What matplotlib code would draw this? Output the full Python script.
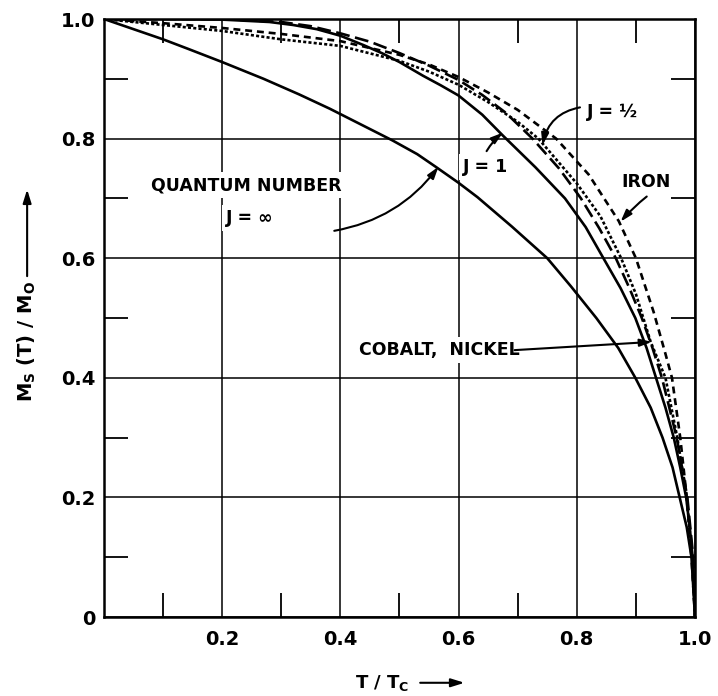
import matplotlib.pyplot as plt
from matplotlib.ticker import FixedLocator

plt.rcParams['font.family'] = ['DejaVu Sans']
plt.rcParams['font.weight'] = 'bold'
plt.rcParams['mathtext.fontset'] = 'custom'
plt.rcParams['mathtext.bf'] = 'DejaVu Sans:bold'
plt.rcParams['lines.scale_dashes'] = False

# values: T/Tc and Ms(T)/M0
t_jinf = [0.0, 0.05, 0.1, 0.1425, 0.2, 0.27, 0.33, 0.382, 0.43, 0.488, 0.53, 0.5625, 0.6,
          0.632, 0.69, 0.75, 0.79, 0.833, 0.87, 0.899, 0.925, 0.945, 0.962, 0.974, 0.986,
          0.994, 1.0]
m_jinf = [1.0, 0.983, 0.966, 0.95, 0.928, 0.9, 0.874, 0.85, 0.826, 0.797, 0.774, 0.752,
          0.726, 0.702, 0.653, 0.6, 0.553, 0.5, 0.45, 0.4, 0.35, 0.3, 0.25, 0.2, 0.15,
          0.1, 0.0]

t_j1 = [0.0, 0.1, 0.2, 0.28, 0.32, 0.36, 0.4, 0.44, 0.47, 0.5, 0.54, 0.57, 0.6, 0.64, 0.675,
        0.73, 0.78, 0.815, 0.845, 0.874, 0.899, 0.918, 0.934, 0.95, 0.964, 0.975, 0.985,
        0.991, 0.996, 1.0]
m_j1 = [1.0, 1.0, 0.999, 0.995, 0.99, 0.983, 0.972, 0.956, 0.943, 0.928, 0.905, 0.889, 0.872,
        0.84, 0.805, 0.752, 0.7, 0.652, 0.6, 0.55, 0.5, 0.45, 0.4, 0.35, 0.3, 0.25, 0.2,
        0.15, 0.1, 0.0]

t_jhalf = [0.0, 0.2, 0.3, 0.35, 0.4, 0.45, 0.5, 0.55, 0.6, 0.64, 0.68, 0.725, 0.77, 0.807,
           0.838, 0.866, 0.889, 0.91, 0.928, 0.944, 0.969, 0.987, 0.997, 1.0]
m_jhalf = [1.0, 1.0, 0.995, 0.988, 0.976, 0.962, 0.943, 0.922, 0.898, 0.873, 0.843, 0.8,
           0.75, 0.7, 0.65, 0.6, 0.55, 0.5, 0.45, 0.4, 0.3, 0.2, 0.1, 0.0]

t_iron = [0.0, 0.1, 0.2, 0.3, 0.4, 0.5, 0.55, 0.6, 0.65, 0.7, 0.765, 0.82, 0.871, 0.9,
          0.93, 0.95, 0.961, 0.975, 0.986, 0.994, 1.0]
m_iron = [1.0, 0.993, 0.985, 0.975, 0.963, 0.94, 0.924, 0.903, 0.877, 0.848, 0.8, 0.74,
          0.662, 0.6, 0.51, 0.44, 0.4, 0.3, 0.2, 0.1, 0.0]

t_coni = [0.0, 0.1, 0.2, 0.3, 0.4, 0.5, 0.55, 0.6, 0.65, 0.7, 0.735, 0.8, 0.84, 0.875,
          0.9, 0.925, 0.95, 0.97, 0.986, 0.995, 1.0]
m_coni = [1.0, 0.99, 0.98, 0.966, 0.955, 0.93, 0.912, 0.89, 0.861, 0.828, 0.8, 0.725,
          0.67, 0.6, 0.54, 0.46, 0.4, 0.3, 0.2, 0.1, 0.0]

x_ticks = [0.2, 0.4, 0.6, 0.8, 1.0]
x_labels = ['0.2', '0.4', '0.6', '0.8', '1.0']
y_ticks = [0.0, 0.2, 0.4, 0.6, 0.8, 1.0]
y_labels = ['0', '0.2', '0.4', '0.6', '0.8', '1.0']
minor_ticks = [0.1, 0.3, 0.5, 0.7, 0.9]

fig = plt.figure(figsize=(7.18, 6.96), dpi=100)
ax = fig.add_axes([0.1448, 0.1135, 0.8232, 0.8592])

lw = 1.9
ax.plot(t_jinf, m_jinf, color='black', lw=lw, zorder=4)
ax.plot(t_j1, m_j1, color='black', lw=lw, zorder=4)
ax.plot(t_jhalf, m_jhalf, color='black', lw=lw, dashes=(10, 4), zorder=4)
ax.plot(t_coni, m_coni, color='black', lw=lw, dashes=(2.2, 1.6), zorder=4)
ax.plot(t_iron, m_iron, color='black', lw=lw, dashes=(5, 3.5), zorder=4)

ax.set_xlim(0, 1)
ax.set_ylim(0, 1)
ax.set_xticks(x_ticks)
ax.set_xticklabels(x_labels)
ax.set_yticks(y_ticks)
ax.set_yticklabels(y_labels)
ax.xaxis.set_minor_locator(FixedLocator(minor_ticks))
ax.yaxis.set_minor_locator(FixedLocator(minor_ticks))
ax.tick_params(which='major', length=0, labelsize=14)
ax.tick_params(axis='y', which='major', pad=6)
ax.tick_params(axis='x', which='major', pad=9)
ax.tick_params(which='minor', direction='in', length=17, width=1.3,
               top=True, right=True, bottom=True, left=True)
ax.grid(True, which='major', color='black', lw=1.1)
ax.set_axisbelow(True)
for s in ax.spines.values():
    s.set_linewidth(1.8)

# axis titles with long arrows
ax.text(0.47, -0.11, r'T / T$_\mathbf{C}$', transform=ax.transAxes, ha='center',
        va='center', fontsize=13, fontweight='bold')
ax.annotate('', xy=(0.61, -0.11), xytext=(0.535, -0.11), xycoords='axes fraction',
            textcoords='axes fraction', annotation_clip=False,
            arrowprops=dict(arrowstyle='-|>,head_length=0.8,head_width=0.25',
                            color='black', lw=1.5, shrinkA=0, shrinkB=0))
ax.text(-0.13, 0.46, r'M$_\mathbf{S}$ (T) / M$_\mathbf{O}$', transform=ax.transAxes,
        ha='center', va='center', rotation=90, fontsize=14, fontweight='bold')
ax.annotate('', xy=(-0.13, 0.715), xytext=(-0.13, 0.57), xycoords='axes fraction',
            textcoords='axes fraction', annotation_clip=False,
            arrowprops=dict(arrowstyle='-|>,head_length=0.8,head_width=0.25',
                            color='black', lw=1.5, shrinkA=0, shrinkB=0))

box = dict(facecolor='white', edgecolor='none', pad=3)
txt = dict(fontsize=12.5, fontweight='bold', zorder=3, bbox=box)
arrow = dict(arrowstyle='-|>,head_length=0.7,head_width=0.22', color='black', lw=1.5,
             shrinkA=2, shrinkB=0)

ax.text(0.24, 0.722, 'QUANTUM NUMBER', ha='center', va='center', **txt)
ax.text(0.247, 0.667, 'J = ∞', ha='center', va='center', **txt)
ax.annotate('', xy=(0.566, 0.753), xytext=(0.385, 0.645),
            arrowprops=dict(connectionstyle='arc3,rad=0.2', **arrow), zorder=5)

ax.text(0.646, 0.752, 'J = 1', ha='center', va='center', **txt)
ax.annotate('', xy=(0.675, 0.81), xytext=(0.645, 0.775),
            arrowprops=dict(connectionstyle='arc3,rad=-0.1', **arrow), zorder=5)

ax.text(0.86, 0.845, 'J = ½', ha='center', va='center', **txt)
ax.annotate('', xy=(0.742, 0.789), xytext=(0.81, 0.853),
            arrowprops=dict(connectionstyle='arc3,rad=0.35', **arrow), zorder=5)

ax.text(0.918, 0.727, 'IRON', ha='center', va='center', **txt)
ax.annotate('', xy=(0.874, 0.661), xytext=(0.922, 0.706),
            arrowprops=dict(connectionstyle='arc3,rad=0.05', **arrow), zorder=5)

ax.text(0.432, 0.446, 'COBALT,  NICKEL', ha='left', va='center', **txt)
ax.annotate('', xy=(0.927, 0.46), xytext=(0.69, 0.446),
            arrowprops=dict(connectionstyle='arc3,rad=0', **arrow), zorder=5)

fig.savefig('out.png', dpi=100)
